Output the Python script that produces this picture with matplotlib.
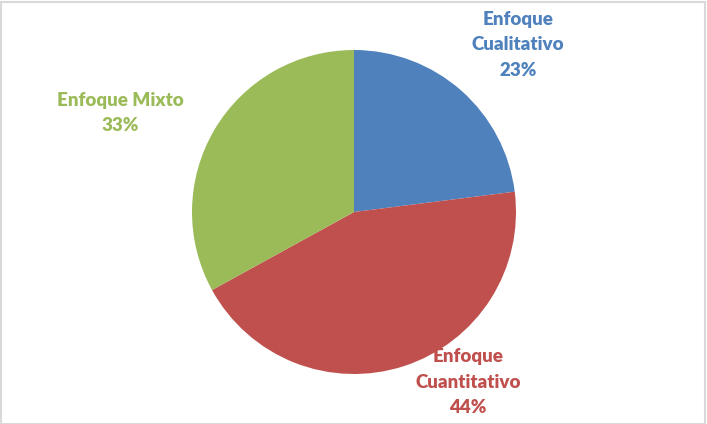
import matplotlib
matplotlib.use("Agg")
import matplotlib.pyplot as plt
from matplotlib.patches import Rectangle

categories = ["Enfoque\nCualitativo", "Enfoque\nCuantitativo", "Enfoque Mixto"]
values = [23, 44, 33]
colors = ["#4F81BD", "#C0504D", "#9BBB59"]

W, H = 707, 424
fig = plt.figure(figsize=(W / 100, H / 100), dpi=100)
ax = fig.add_axes([0, 0, 1, 1])
ax.set_xlim(0, W)
ax.set_ylim(0, H)
ax.axis("off")

wedges, _ = ax.pie(values, colors=colors, startangle=90, counterclock=False,
                   center=(354, H - 212), radius=162,
                   wedgeprops=dict(edgecolor="white", linewidth=0))
ax.set_xlim(0, W)
ax.set_ylim(0, H)
ax.set_aspect("auto")

label_pos = [(518, H - 45), (468, H - 382), (120, H - 113)]
for cat, v, c, (x, y) in zip(categories, values, colors, label_pos):
    ax.text(x, y, f"{cat}\n{v}%", ha="center", va="center", color=c,
            fontsize=13.5, fontweight="heavy", family="Lato", linespacing=1.6)

fig.patches.append(Rectangle((0.5 / W, 0.5 / H), 1 - 2.5 / W, 1 - 2.5 / H,
                             transform=fig.transFigure, fill=False,
                             edgecolor="#D9D9D9", linewidth=1.5))
fig.savefig("out.png", dpi=100)
